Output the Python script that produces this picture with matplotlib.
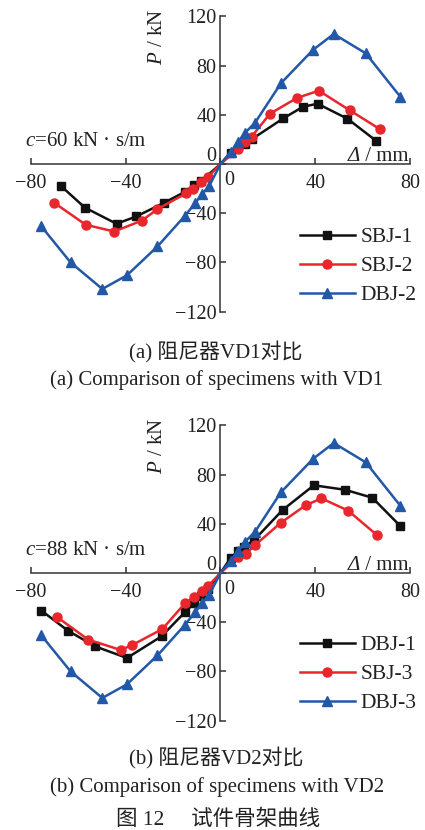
import matplotlib
matplotlib.use("Agg")
import matplotlib.pyplot as plt

plt.rcParams['font.family'] = ['Liberation Serif', 'Noto Sans CJK SC']
plt.rcParams['mathtext.fontset'] = 'custom'
plt.rcParams['mathtext.rm'] = 'Liberation Serif'
plt.rcParams['mathtext.it'] = 'Liberation Serif:italic'
plt.rcParams['axes.unicode_minus'] = True

# ---- panel (a): damper VD1 ----
disp_sbj1 = [-67.5, -57.3, -43.9, -35.5, -23.7, -14.8, -11.0, -8.2, 0, 4.3, 10.5, 13.1, 26.5, 34.9, 41.0, 53.6, 65.8]
load_sbj1 = [-17.6, -35.4, -48.6, -42.6, -31.4, -22.4, -17.0, -13.8, 0, 8.7, 16.3, 20.0, 37.1, 46.6, 49.0, 36.8, 18.7]

disp_sbj2 = [-70.3, -56.9, -44.9, -33.2, -26.6, -14.5, -11.4, -8.2, -5.1, 0, 7.4, 10.5, 13.1, 20.9, 32.3, 41.5, 54.6, 67.4]
load_sbj2 = [-31.4, -49.4, -54.9, -46.0, -36.7, -23.8, -20.3, -14.9, -10.3, 0, 12.2, 17.6, 22.2, 40.9, 53.7, 59.6, 43.6, 28.2]

disp_dbj2 = [-75.6, -63.3, -49.9, -39.5, -26.6, -15.0, -10.7, -7.8, -4.7, 0, 4.3, 7.5, 10.2, 14.6, 25.5, 39.0, 47.8, 61.3, 75.9]
load_dbj2 = [-50.8, -80.0, -101.6, -90.5, -67.0, -42.1, -31.8, -24.6, -17.6, 0, 10.0, 18.0, 25.0, 33.6, 65.6, 92.7, 105.7, 90.0, 54.7]

# ---- panel (b): damper VD2 ----
disp_dbj1 = [-75.6, -64.4, -53.0, -39.5, -24.9, -14.8, -11.0, -8.2, -5.4, 0, 4.3, 7.5, 10.1, 14.2, 26.2, 39.4, 52.5, 64.1, 75.9]
load_dbj1 = [-30.6, -46.9, -59.6, -69.1, -51.5, -31.4, -24.4, -18.4, -13.0, 0, 12.4, 17.9, 21.4, 26.8, 51.2, 71.3, 67.7, 61.2, 38.2]

disp_sbj3 = [-68.9, -55.8, -42.1, -37.2, -24.5, -15.0, -11.0, -7.9, -5.1, 0, 7.5, 10.6, 14.5, 25.5, 35.9, 42.6, 53.9, 66.0]
load_sbj3 = [-36.0, -54.2, -62.6, -58.5, -45.5, -24.6, -19.3, -14.9, -10.3, 0, 13.3, 15.4, 22.5, 40.9, 55.0, 60.7, 50.7, 30.9]

disp_dbj3 = [-75.6, -63.3, -49.9, -39.5, -26.6, -15.0, -10.7, -7.8, -4.7, 0, 4.3, 7.5, 10.2, 14.6, 25.5, 39.0, 47.8, 61.3, 75.9]
load_dbj3 = [-50.8, -80.0, -101.6, -90.5, -67.0, -42.1, -31.8, -24.6, -17.6, 0, 10.0, 18.0, 25.0, 33.6, 65.6, 92.7, 105.7, 90.0, 54.7]

x_ticks = [-80, -40, 0, 40, 80]
y_ticks = [-120, -80, -40, 0, 40, 80, 120]

BLACK = '#111111'
RED = '#e8262b'
BLUE = '#2258a8'
TXT = '#222222'
FS_TICK = 14.5
FS = 15

W, H = 425, 830
fig = plt.figure(figsize=(W / 100, H / 100), dpi=100)


def px_rect(x0, y_top, x1, y_bot):
    return [x0 / W, 1 - y_bot / H, (x1 - x0) / W, (y_bot - y_top) / H]


def fmt(v):
    return '' if v == 0 else f'{v}'.replace('-', '\u2212')


def draw_curve(ax, xs, ys, color, marker, ms, label):
    marks = [i for i, v in enumerate(xs) if v != 0]
    ax.plot(xs, ys, color=color, lw=1.8, marker=marker, ms=ms,
            markevery=marks, label=label, clip_on=False, zorder=3)


def setup_axes(ax, c_text):
    ax.set_xlim(-80, 80)
    ax.set_ylim(-120, 120)
    for s in ['top', 'right']:
        ax.spines[s].set_visible(False)
    ax.spines['left'].set_position(('data', 0))
    ax.spines['bottom'].set_position(('data', 0))
    for s in ['left', 'bottom']:
        ax.spines[s].set_color('#333333')
        ax.spines[s].set_linewidth(1.1)
    ax.set_xticks(x_ticks)
    ax.set_xticklabels([fmt(v) for v in x_ticks])
    ax.set_yticks(y_ticks)
    ax.set_yticklabels([fmt(v) for v in y_ticks])
    ax.tick_params(direction='in', length=4, width=1.1, color='#333333',
                   labelsize=FS_TICK, labelcolor=TXT)
    ax.tick_params(axis='x', pad=7.5)
    ax.tick_params(axis='y', pad=3)
    ax.patch.set_alpha(0)
    # zero labels sit off the crossing point of the axes
    ax.text(-2.0, 6.5, '0', ha='right', va='center', fontsize=FS_TICK, color=TXT)
    ax.text(3.5, -13.5, '0', ha='center', va='center', fontsize=FS_TICK, color=TXT)
    ax.text(-26.5, 103, '$P$ / kN', rotation=90, ha='center', va='center',
            fontsize=FS, color=TXT)
    unit = ax.text(79.5, 6.5, ' / mm', ha='right', va='center', fontsize=FS, color=TXT)
    ax.annotate('\u0394', xy=(0, 0.5), xycoords=unit, ha='right', va='center',
                fontsize=FS, style='italic', color=TXT)
    ax.text(-82.5, 18, c_text, ha='left', va='center', fontsize=FS, color=TXT)


ax1 = fig.add_axes(px_rect(31, 16.4, 410, 311.6))
setup_axes(ax1, '$c$=60 kN · s/m')
draw_curve(ax1, disp_sbj1, load_sbj1, BLACK, 's', 5.5, 'SBJ-1')
draw_curve(ax1, disp_sbj2, load_sbj2, RED, 'o', 6.5, 'SBJ-2')
draw_curve(ax1, disp_dbj2, load_dbj2, BLUE, '^', 6.5, 'DBJ-2')

ax2 = fig.add_axes(px_rect(31, 425.4, 410, 720.6))
setup_axes(ax2, '$c$=88 kN · s/m')
draw_curve(ax2, disp_dbj1, load_dbj1, BLACK, 's', 5.5, 'DBJ-1')
draw_curve(ax2, disp_sbj3, load_sbj3, RED, 'o', 6.5, 'SBJ-3')
draw_curve(ax2, disp_dbj3, load_dbj3, BLUE, '^', 6.5, 'DBJ-3')

for ax, top in [(ax1, 227), (ax2, 635)]:
    ax.legend(loc='upper left', bbox_to_anchor=(300 / W, 1 - top / H),
              bbox_transform=fig.transFigure, frameon=False, fontsize=15.5,
              handlelength=2.55, handletextpad=0.25, labelspacing=0.42,
              borderpad=0, borderaxespad=0)
    for t in ax.get_legend().get_texts():
        t.set_color(TXT)

CAP = 15
fig.text(216 / W, 1 - 352 / H, '(a) 阻尼器VD1对比', ha='center', va='center', fontsize=CAP, color=TXT)
fig.text(217 / W, 1 - 380 / H, '(a) Comparison of specimens with VD1', ha='center', va='center', fontsize=CAP, color=TXT)
fig.text(216 / W, 1 - 758 / H, '(b) 阻尼器VD2对比', ha='center', va='center', fontsize=CAP, color=TXT)
fig.text(217 / W, 1 - 787 / H, '(b) Comparison of specimens with VD2', ha='center', va='center', fontsize=CAP, color=TXT)
fig.text(218 / W, 1 - 820 / H, '图 12\u3000 试件骨架曲线', ha='center', va='center', fontsize=15.5, color=TXT)

fig.savefig('out.png', dpi=100)
